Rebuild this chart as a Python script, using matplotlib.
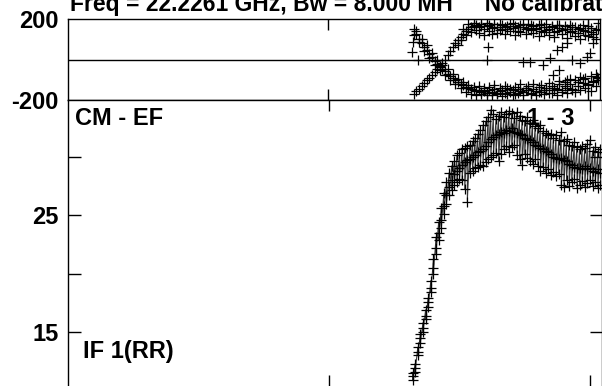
import numpy as np
import matplotlib.pyplot as plt

plt.rcParams['font.family'] = ['Liberation Sans', 'DejaVu Sans']
plt.rcParams['font.weight'] = 'bold'

# channels shown in the plot
chan = list(range(132, 205))

# amplitude, three samples per channel
amp_a = [11.5, 12.3, 13.7, 14.8, 15.8, 16.9, 17.9, 19.4, 21.2, 23.1, 24.4, 25.6, 26.9, 27.8,
         28.6, 29.2, 29.6, 30.1, 30.3, 30.6, 30.7, 30.9, 31.0, 31.3, 31.6, 31.9, 32.3, 32.7,
         33.0, 33.4, 34.0, 33.6, 33.2, 33.5, 33.8, 33.4, 33.6, 33.9, 33.7, 33.3, 33.8, 33.5,
         33.1, 33.0, 33.4, 32.9, 33.1, 32.6, 32.4, 32.7, 32.2, 32.0, 31.8, 31.9, 31.6, 31.8,
         31.4, 32.1, 31.3, 31.5, 31.0, 30.9, 31.2, 30.8, 30.6, 30.9, 30.7, 31.1, 31.4, 30.5,
         30.8, 30.4, 30.6]
amp_b = [11.2, 11.9, 13.3, 14.5, 15.3, 16.4, 17.6, 18.8, 20.5, 22.2, 23.5, 24.6, 25.8, 26.7,
         27.4, 28.0, 28.5, 28.8, 29.0, 29.3, 29.5, 29.7, 29.8, 30.0, 30.1, 30.4, 30.5, 30.6,
         30.9, 31.2, 31.5, 31.7, 31.8, 31.9, 32.1, 32.0, 32.3, 32.2, 32.4, 32.1, 32.0, 31.9,
         31.8, 31.6, 31.5, 31.4, 31.2, 31.0, 30.9, 30.7, 30.6, 30.5, 30.4, 30.2, 30.0, 29.9,
         29.8, 29.9, 29.7, 29.6, 29.4, 29.3, 29.1, 29.0, 29.0, 28.9, 29.2, 28.9, 29.0, 28.8,
         28.7, 28.9, 28.6]
amp_c = [10.9, 11.6, 13.0, 14.1, 15.0, 16.1, 17.1, 18.4, 20.0, 21.7, 22.9, 23.9, 25.1, 25.9,
         26.7, 27.1, 27.6, 27.8, 28.1, 28.0, 27.2, 26.1, 28.6, 28.8, 29.0, 29.1, 29.3, 29.2,
         29.5, 29.8, 30.0, 30.1, 30.3, 29.6, 30.2, 30.6, 30.9, 30.4, 30.8, 31.0, 30.1, 29.8,
         29.3, 30.2, 29.9, 29.6, 29.4, 29.8, 29.2, 28.8, 29.1, 28.6, 28.9, 28.4, 28.7, 28.3,
         28.5, 27.6, 27.4, 28.0, 27.5, 27.8, 28.1, 27.3, 27.6, 27.9, 27.4, 27.7, 28.0, 27.5,
         27.8, 27.3, 27.6]

# phase tracks
chan_ph = list(range(133, 205))
phase_a = [150, 125, 100, 80, 60, 45, 25, 10, -5, -20, -30, -45, -55, -70, -80, -90, -100,
           -110, -120, -125, -135, -140, -145, -150, -155, -150, -160, -155, -165, -150, -160,
           -145, -170, -155, -150, -165, -140, -160, -150, -170, -145, -155, -160, -140, -150,
           -165, -145, -155, -135, -160, -150, -140, -165, -130, -150, -145, -120, -160, -110,
           -140, -95, -150, -100, -130, -85, -115, -90, -125, -80, -110, -70, -100]
phase_b = [-170, -155, -145, -130, -115, -100, -90, -75, -60, -45, -35, -15, 0, 20, 40, 60,
           80, 95, 110, 125, 140, 150, 160, 165, 170, 160, 175, 150, 165, 170, 155, 175, 160,
           145, 170, 160, 150, 175, 155, 165, 140, 170, 160, 150, 175, 145, 165, 155, 170, 140,
           160, 175, 150, 165, 135, 170, 155, 145, 165, 150, 170, 140, 160, 130, 155, 145, 120,
           165, 135, 110, 145, 180]
phase_c = [120, 140, 85, 100, 40, 70, 5, 30, -25, 0, -50, -25, -75, -45, -100, -70, -120,
           -95, -140, -110, -160, -125, -170, -135, -175, -130, -170, -140, -175, -135, -175,
           -125, -165, -140, -180, -130, -170, -145, -175, -135, -165, -120, -175, -150, -130,
           -170, -120, -175, -160, -125, -170, -150, -115, -165, -140, -175, -105, -150, -130,
           -165, -120, -145, -160, -110, -150, -95, -140, -120, -155, -105, -130, -90]
chan_ph_d = list(range(150, 205))
phase_d = [70, 95, 150, 120, 175, 135, 180, 145, 130, 165, 120, 180, 140, 125, 160, 130, 175,
           150, 125, 165, 140, 180, 120, 160, 135, 175, 125, 155, 170, 130, 150, 115, 175, 135,
           145, 120, 160, 110, 140, 170, 125, 150, 105, 135, 160, 115, 150, 100, 170, 140, 115,
           155, 125, 100, 150]
extra_ch = [132.3, 132.7, 134.6, 161.0, 161.5, 175.0, 177.7, 182.7, 185.4, 188.0, 190.0,
            192.0, 194.0, 197.0, 199.6, 200.8, 202.0, 203.5, 192.0, 186.5, 189.0]
extra_ph = [37, 86, -2, -2, 62, -12, -12, -27, 7, 47, 62, 80, -2, -17, 12, 32, 80, -86,
            -100, -76, -52]

W, H = 602, 386
fig = plt.figure(figsize=(W / 100, H / 100), dpi=100)

x0, x1 = 68, 600
ax_top = fig.add_axes([x0 / W, 1 - 100 / H, (x1 - x0) / W, 81 / H])
ax_bot = fig.add_axes([x0 / W, 0, (x1 + 2 - x0) / W, 1 - 100 / H])

xlim = (0, 204.6)
mk = dict(marker='+', ms=6.5, mew=0.9, color='black', ls='none')
fs = 17

# phase panel
ax_top.plot(chan_ph, phase_a, **mk)
ax_top.plot(chan_ph, phase_b, **mk)
ax_top.plot(chan_ph, phase_c, **mk)
ax_top.plot(chan_ph_d, phase_d, **mk)
ax_top.plot(extra_ch, extra_ph, **mk)
ax_top.axhline(0, color='black', lw=1)
ax_top.set_xlim(*xlim)
ax_top.set_ylim(-200, 200)
ax_top.set_yticks([-200, 200])
ax_top.set_yticklabels(['-200', '200'])
ax_top.set_xticks([100, 200])
ax_top.tick_params(axis='x', direction='in', top=True, bottom=True, length=8,
                   labelbottom=False, width=1)
ax_top.tick_params(axis='y', length=0, pad=7, labelsize=fs)

# amplitude panel
xs, ys = [], []
for i, c in enumerate(chan):
    for v in (amp_a[i], amp_b[i], amp_c[i]):
        xs.append(c)
        ys.append(v)
ax_bot.plot(xs, ys, color='black', lw=0.7, alpha=0.8)
ax_bot.plot(xs, ys, **mk)
ax_bot.set_xlim(*xlim)
ax_bot.set_ylim(15 - (386 - 332) / 11.7, 25 + (215 - 100) / 11.7)
ax_bot.set_yticks([15, 20, 25, 30])
ax_bot.set_yticklabels(['15', '', '25', ''])
ax_bot.set_xticks([100, 200])
ax_bot.tick_params(axis='x', direction='in', top=True, bottom=True, length=8,
                   labelbottom=False, width=1)
ax_bot.tick_params(axis='y', direction='in', left=True, right=True, length=9,
                   pad=7, labelsize=fs, width=1)
ax_bot.spines['bottom'].set_visible(False)

for ax in (ax_top, ax_bot):
    for s in ax.spines.values():
        s.set_linewidth(1)

ax_bot.text(0.013, 0.975, 'CM - EF', transform=ax_bot.transAxes, fontsize=fs,
            fontweight='bold', va='top', ha='left')
ax_bot.text(0.86, 0.975, '1 - 3', transform=ax_bot.transAxes, fontsize=fs,
            fontweight='bold', va='top', ha='left')
ax_bot.text(0.028, 0.08, 'IF 1(RR)', transform=ax_bot.transAxes, fontsize=fs,
            fontweight='bold', va='bottom', ha='left')

fig.text(70 / W, 1 - 11 / H, 'Freq = 22.2261 GHz, Bw = 8.000 MH     No calibration applied',
         fontsize=16.5, fontweight='bold', va='baseline', ha='left')

fig.savefig('out.png', dpi=100)
